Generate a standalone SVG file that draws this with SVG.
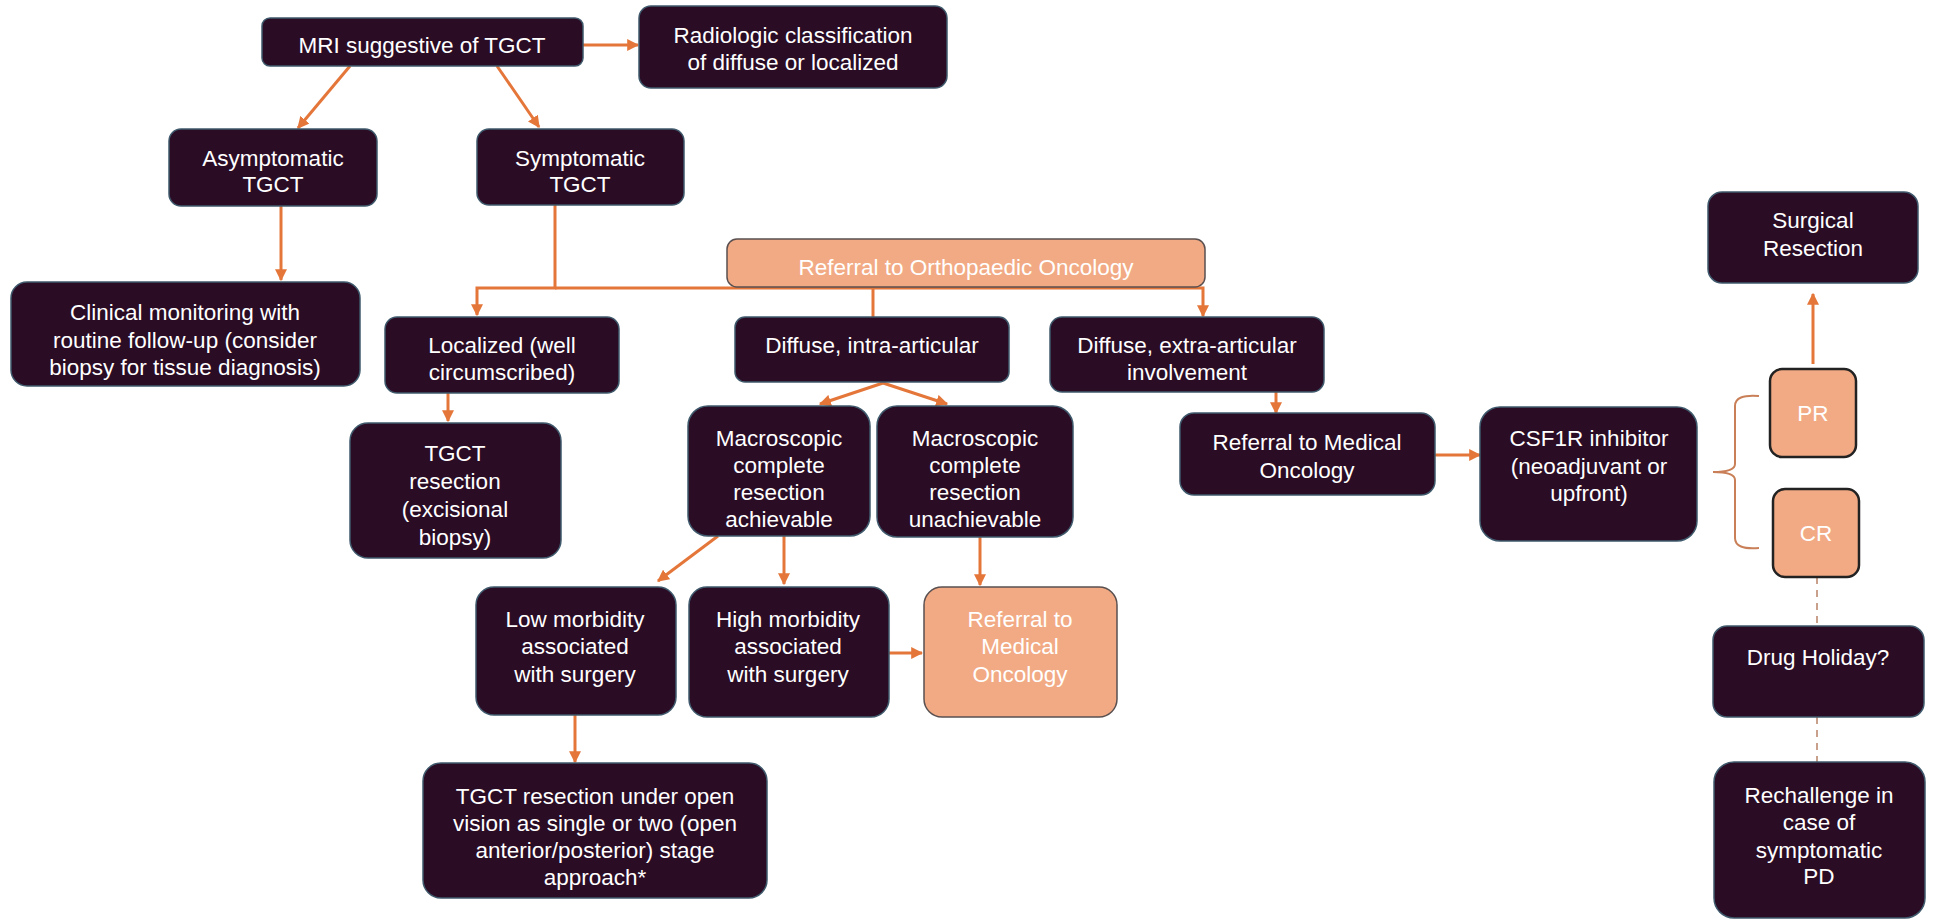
<svg xmlns="http://www.w3.org/2000/svg" width="1933" height="920" viewBox="0 0 1933 920">
<defs>
<style>
.n{fill:#2A0C25;stroke:#3F5A6C;stroke-width:1.5}
.s{fill:#F2AA84;stroke:#5A5050;stroke-width:1.5}
.p{fill:#F2AA84;stroke:#222;stroke-width:2.5}
text{font-family:"Liberation Sans",Arial,Helvetica,sans-serif;font-size:22.5px;fill:#FFFFFF;text-anchor:middle}
.c{fill:none;stroke:#E4763A;stroke-width:3}
.b{fill:none;stroke:#C98058;stroke-width:2}
.d{fill:none;stroke:#C9A08C;stroke-width:2;stroke-dasharray:7,6}
</style>
<marker id="ah" viewBox="0 0 10 10" refX="9" refY="5" markerWidth="12" markerHeight="12" markerUnits="userSpaceOnUse" orient="auto">
<path d="M0,0 L10,5 L0,10 z" fill="#E4763A"/>
</marker>
</defs>
<rect width="1933" height="920" fill="#FFFFFF"/>
<g id="connectors">
<path class="c" d="M583,45 H638" marker-end="url(#ah)"/>
<path class="c" d="M350,66 L298,128" marker-end="url(#ah)"/>
<path class="c" d="M497,66 L539,127" marker-end="url(#ah)"/>
<path class="c" d="M281,206 V280" marker-end="url(#ah)"/>
<path class="c" d="M555,205 V288 H477 V315" marker-end="url(#ah)"/>
<path class="c" d="M555,288 H1203 V316" marker-end="url(#ah)"/>
<path class="c" d="M873,288 V317"/>
<path class="c" d="M448,393 V421" marker-end="url(#ah)"/>
<path class="c" d="M883,383 L820,404" marker-end="url(#ah)"/>
<path class="c" d="M883,383 L947,404" marker-end="url(#ah)"/>
<path class="c" d="M1276,392 V413" marker-end="url(#ah)"/>
<path class="c" d="M1435,455 H1480" marker-end="url(#ah)"/>
<path class="c" d="M718,536 L658,581" marker-end="url(#ah)"/>
<path class="c" d="M784,536 V584" marker-end="url(#ah)"/>
<path class="c" d="M980,537 V585" marker-end="url(#ah)"/>
<path class="c" d="M889,653 H922" marker-end="url(#ah)"/>
<path class="c" d="M575,715 V762" marker-end="url(#ah)"/>
<path class="c" d="M1813,364 V294" marker-end="url(#ah)"/>
<path class="b" d="M1759,396 Q1735,394 1735,406 V464 Q1735,472 1713,472 Q1735,472 1735,480 V538 Q1735,550 1759,548"/>
<path class="d" d="M1817,577 V626"/>
<path class="d" d="M1817,717 V762"/>
</g>
<g id="n-mri"><rect class="n" x="262" y="18" width="321" height="48" rx="8"/><text x="422" y="53">MRI suggestive of TGCT</text></g>
<g id="n-radiologic"><rect class="n" x="639" y="6" width="308" height="82" rx="12"/><text x="793" y="43">Radiologic classification</text><text x="793" y="70">of diffuse or localized</text></g>
<g id="n-asymptomatic"><rect class="n" x="169" y="129" width="208" height="77" rx="12"/><text x="273" y="166">Asymptomatic</text><text x="273" y="192">TGCT</text></g>
<g id="n-symptomatic"><rect class="n" x="477" y="129" width="207" height="76" rx="12"/><text x="580" y="166">Symptomatic</text><text x="580" y="192">TGCT</text></g>
<g id="n-clinical"><rect class="n" x="11" y="282" width="349" height="104" rx="16"/><text x="185" y="320">Clinical monitoring with</text><text x="185" y="348">routine follow-up (consider</text><text x="185" y="375">biopsy for tissue diagnosis)</text></g>
<g id="n-ortho"><rect class="s" x="727" y="239" width="478" height="48" rx="10"/><text x="966" y="275">Referral to Orthopaedic Oncology</text></g>
<g id="n-localized"><rect class="n" x="385" y="317" width="234" height="76" rx="12"/><text x="502" y="353">Localized (well</text><text x="502" y="380">circumscribed)</text></g>
<g id="n-diffuse-intra"><rect class="n" x="735" y="317" width="274" height="65" rx="10"/><text x="872" y="353">Diffuse, intra-articular</text></g>
<g id="n-diffuse-extra"><rect class="n" x="1050" y="317" width="274" height="75" rx="12"/><text x="1187" y="353">Diffuse, extra-articular</text><text x="1187" y="380">involvement</text></g>
<g id="n-tgct-resection"><rect class="n" x="350" y="423" width="211" height="135" rx="18"/><text x="455" y="461">TGCT</text><text x="455" y="489">resection</text><text x="455" y="517">(excisional</text><text x="455" y="545">biopsy)</text></g>
<g id="n-achievable"><rect class="n" x="688" y="406" width="182" height="130" rx="20"/><text x="779" y="446">Macroscopic</text><text x="779" y="473">complete</text><text x="779" y="500">resection</text><text x="779" y="527">achievable</text></g>
<g id="n-unachievable"><rect class="n" x="877" y="406" width="196" height="131" rx="20"/><text x="975" y="446">Macroscopic</text><text x="975" y="473">complete</text><text x="975" y="500">resection</text><text x="975" y="527">unachievable</text></g>
<g id="n-refmed"><rect class="n" x="1180" y="413" width="255" height="82" rx="14"/><text x="1307" y="450">Referral to Medical</text><text x="1307" y="478">Oncology</text></g>
<g id="n-csf1r"><rect class="n" x="1480" y="407" width="217" height="134" rx="20"/><text x="1589" y="446">CSF1R inhibitor</text><text x="1589" y="474">(neoadjuvant or</text><text x="1589" y="501">upfront)</text></g>
<g id="n-surgical"><rect class="n" x="1708" y="192" width="210" height="91" rx="14"/><text x="1813" y="228">Surgical</text><text x="1813" y="256">Resection</text></g>
<g id="n-pr"><rect class="p" x="1770" y="369" width="86" height="88" rx="12"/><text x="1813" y="421">PR</text></g>
<g id="n-cr"><rect class="p" x="1773" y="489" width="86" height="88" rx="12"/><text x="1816" y="541">CR</text></g>
<g id="n-low"><rect class="n" x="476" y="587" width="200" height="128" rx="18"/><text x="575" y="627">Low morbidity</text><text x="575" y="654">associated</text><text x="575" y="682">with surgery</text></g>
<g id="n-high"><rect class="n" x="689" y="587" width="200" height="130" rx="18"/><text x="788" y="627">High morbidity</text><text x="788" y="654">associated</text><text x="788" y="682">with surgery</text></g>
<g id="n-refmed2"><rect class="s" x="924" y="587" width="193" height="130" rx="18"/><text x="1020" y="627">Referral to</text><text x="1020" y="654">Medical</text><text x="1020" y="682">Oncology</text></g>
<g id="n-tgct-open"><rect class="n" x="423" y="763" width="344" height="135" rx="18"/><text x="595" y="804">TGCT resection under open</text><text x="595" y="831">vision as single or two (open</text><text x="595" y="858">anterior/posterior) stage</text><text x="595" y="885">approach*</text></g>
<g id="n-holiday"><rect class="n" x="1713" y="626" width="211" height="91" rx="14"/><text x="1818" y="665">Drug Holiday?</text></g>
<g id="n-rechallenge"><rect class="n" x="1714" y="762" width="211" height="156" rx="20"/><text x="1819" y="803">Rechallenge in</text><text x="1819" y="830">case of</text><text x="1819" y="858">symptomatic</text><text x="1819" y="884">PD</text></g>
</svg>
